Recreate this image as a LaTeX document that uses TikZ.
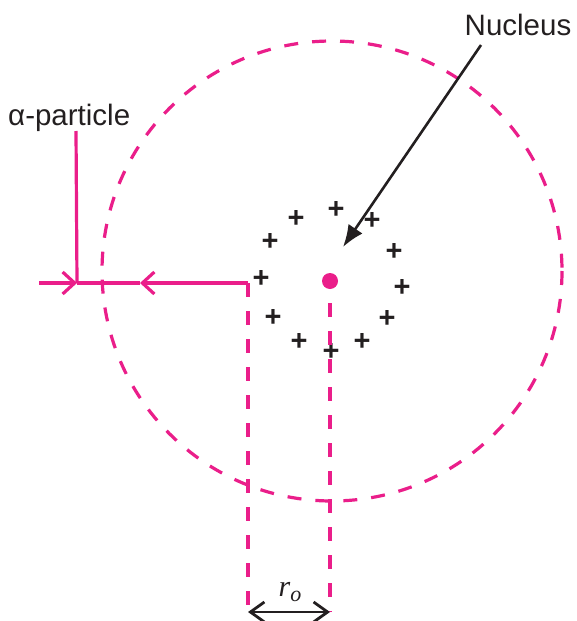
\documentclass[tikz,border=0pt]{standalone}
\usepackage{fontspec}
\setmainfont{Liberation Sans}
\newfontfamily\serifit{Liberation Serif}
\usetikzlibrary{arrows.meta}
\definecolor{pinkline}{RGB}{234,30,138}
\definecolor{inkgray}{RGB}{35,31,32}
\tikzset{
  pinkpath/.style={draw=pinkline, line width=3.2pt},
  pinkdash/.style={draw=pinkline, line width=3.2pt, dash pattern=on 14pt off 14pt},
  chev/.style={-{Straight Barb[length=12pt,width=22pt]}},
  charge/.style={inner sep=0pt, text=inkgray, font=\bfseries\fontsize{29}{29}\selectfont},
  label/.style={inner sep=0pt, text=inkgray, font=\fontsize{29.5}{34}\selectfont},
}
\begin{document}
\begin{tikzpicture}[x=1pt,y=-1pt]
\useasboundingbox (0,0) rectangle (576,621);
% atom boundary
\draw[pinkdash] (332,271) circle (230);
% nucleus
\fill[pinkline] (330,281) circle (8) coordinate (nuc);
% charges
\foreach \px/\py [count=\i] in {336/210,296/219,372/221,270/242,394/252,261/279,402/288,273/318,387/319,299/342,362/342,331/352}
  \node[charge] (c\i) at (\px,\py) {+};
% labels
\node[label, anchor=base] (nlab) at (518,35) {Nucleus};
\node[label, anchor=base west] (alab) at (8,125) {α-particle};
% coordinates of path
\coordinate (vtop) at (76,131);
\coordinate (start) at (39,283);
\coordinate (j1) at (77,283);
\coordinate (mid) at (140,283);
\coordinate (corner) at (248,283);
\coordinate (lbot) at (248,612);
\coordinate (ntop) at (330,303);
\coordinate (rbot) at (330,612);
\coordinate (ntip) at (343,247);
\coordinate (ntail) at (481,45);
% alpha particle path
\draw[pinkpath] (vtop) -- (j1);
\draw[pinkpath, chev] (start) -- (j1);
\draw[pinkpath, chev] (corner) -- (mid);
\draw[pinkpath] (mid) -- (j1);
\draw[pinkdash] (corner) -- (lbot);
\draw[pinkdash] (ntop) -- (rbot);
% nucleus arrow
\draw[inkgray, line width=2.6pt, -{Latex[length=22pt,width=17pt]}] (ntail) -- (ntip);
% r_o
\draw[inkgray, line width=2.8pt, {Straight Barb[length=14pt,width=20pt]}-{Straight Barb[length=14pt,width=20pt]}] (lbot) -- (rbot);
\node[inner sep=0pt, text=inkgray, anchor=base] (rlab) at (290,596) {\serifit\itshape\fontsize{30}{30}\selectfont r\raisebox{-5pt}{\fontsize{22}{22}\selectfont o}};
\end{tikzpicture}
\end{document}
